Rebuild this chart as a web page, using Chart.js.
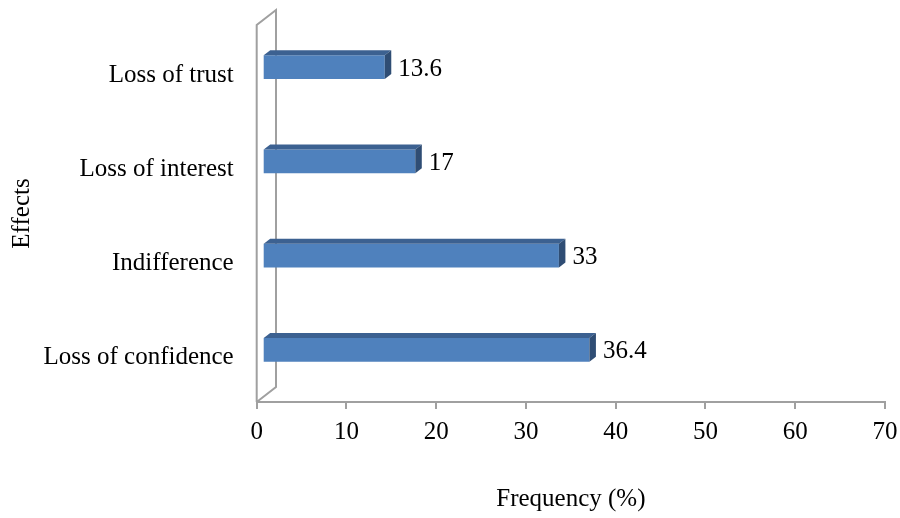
<!DOCTYPE html>
<html>
<head>
<meta charset="utf-8">
<title>Effects – Frequency (%)</title>
<script src="https://cdn.jsdelivr.net/npm/chart.js@4"></script>
<style>
  html, body { margin: 0; padding: 0; background: #ffffff; }
  #wrap { width: 900px; height: 518px; }
</style>
</head>
<body>
<div id="wrap"><canvas id="chart" width="900" height="518"></canvas></div>
<script>
// Effects and their frequency in percent
const categories = ['Loss of trust', 'Loss of interest', 'Indifference', 'Loss of confidence'];
const frequency = [13.6, 17, 33, 36.4];
const xTicks = [0, 10, 20, 30, 40, 50, 60, 70];

const FONT = 'Liberation Serif, "Times New Roman", serif';
const FONT_SIZE = 25;
const FRONT = '#4f81bd';
const TOP = '#3c6191';
const SIDE = '#2f4d74';
const WALL = '#a0a0a0';

// Bars sit a little behind the front plane of the 3D box
const BAR_SHIFT = { x: 6, y: -5 };
// Depth of each bar (top and side faces)
const BAR_DEPTH = { x: 6.5, y: -5 };
// Depth of the back wall
const WALL_DEPTH = { x: 19.3, y: -15 };

const threeD = {
  id: 'threeD',
  beforeDraw(chart) {
    // back wall outline of the 3D plot box
    const { ctx, chartArea: a } = chart;
    ctx.save();
    ctx.strokeStyle = WALL;
    ctx.lineWidth = 2;
    ctx.beginPath();
    ctx.moveTo(a.left, a.bottom);
    ctx.lineTo(a.left, a.top);
    ctx.lineTo(a.left + WALL_DEPTH.x, a.top + WALL_DEPTH.y);
    ctx.lineTo(a.left + WALL_DEPTH.x, a.bottom + WALL_DEPTH.y);
    ctx.lineTo(a.left, a.bottom);
    ctx.stroke();
    ctx.restore();
  },
  beforeDatasetsDraw(chart) {
    chart.ctx.save();
    chart.ctx.translate(BAR_SHIFT.x, BAR_SHIFT.y);
  },
  afterDatasetsDraw(chart) {
    const { ctx } = chart;
    const meta = chart.getDatasetMeta(0);
    const values = chart.data.datasets[0].data;
    meta.data.forEach((bar, i) => {
      const { x, y, base, height } = bar.getProps(['x', 'y', 'base', 'height'], true);
      const y0 = y - height / 2, y1 = y + height / 2;
      const dx = BAR_DEPTH.x, dy = BAR_DEPTH.y;
      // top face
      ctx.fillStyle = TOP;
      ctx.beginPath();
      ctx.moveTo(base, y0);
      ctx.lineTo(base + dx, y0 + dy);
      ctx.lineTo(x + dx, y0 + dy);
      ctx.lineTo(x, y0);
      ctx.closePath();
      ctx.fill();
      // right side face
      ctx.fillStyle = SIDE;
      ctx.beginPath();
      ctx.moveTo(x, y0);
      ctx.lineTo(x + dx, y0 + dy);
      ctx.lineTo(x + dx, y1 + dy);
      ctx.lineTo(x, y1);
      ctx.closePath();
      ctx.fill();
      // value label
      ctx.fillStyle = '#000';
      ctx.font = FONT_SIZE + 'px ' + FONT;
      ctx.textAlign = 'left';
      ctx.textBaseline = 'middle';
      ctx.fillText(String(values[i]), x + dx + 7, y + 2);
    });
    ctx.restore();
  }
};

new Chart(document.getElementById('chart'), {
  type: 'bar',
  data: {
    labels: categories,
    datasets: [{
      data: frequency,
      backgroundColor: FRONT,
      borderWidth: 0,
      categoryPercentage: 0.25,
      barPercentage: 1
    }]
  },
  plugins: [threeD],
  options: {
    indexAxis: 'y',
    responsive: false,
    animation: false,
    devicePixelRatio: 1,
    layout: { padding: { top: 25, right: 15, bottom: 0, left: 0 } },
    plugins: {
      legend: { display: false },
      tooltip: { enabled: false }
    },
    scales: {
      x: {
        min: 0,
        max: 70,
        afterBuildTicks(scale) {
          scale.ticks = xTicks.map(v => ({ value: v }));
        },
        afterFit(scale) {
          scale.height = 116;
          scale.paddingLeft = 0;
          scale.paddingRight = 0;
        },
        grid: {
          drawOnChartArea: false,
          drawTicks: true,
          tickLength: 7,
          color: WALL,
          lineWidth: 2
        },
        border: { display: true, color: WALL, width: 2 },
        ticks: {
          color: '#000',
          padding: 8,
          maxRotation: 0,
          font: { family: FONT, size: FONT_SIZE }
        },
        title: {
          display: true,
          text: 'Frequency (%)',
          color: '#000',
          padding: { top: 0, bottom: 4 },
          font: { family: FONT, size: FONT_SIZE }
        }
      },
      y: {
        afterFit(scale) {
          scale.width = 256.7;
          scale.paddingTop = 0;
          scale.paddingBottom = 0;
        },
        grid: { display: false, drawTicks: false },
        border: { display: false },
        ticks: {
          color: '#000',
          padding: 23,
          labelOffset: 3,
          font: { family: FONT, size: FONT_SIZE }
        },
        title: {
          display: true,
          text: 'Effects',
          color: '#000',
          padding: { top: 7, bottom: 0 },
          font: { family: FONT, size: FONT_SIZE }
        }
      }
    }
  }
});
</script>
</body>
</html>
